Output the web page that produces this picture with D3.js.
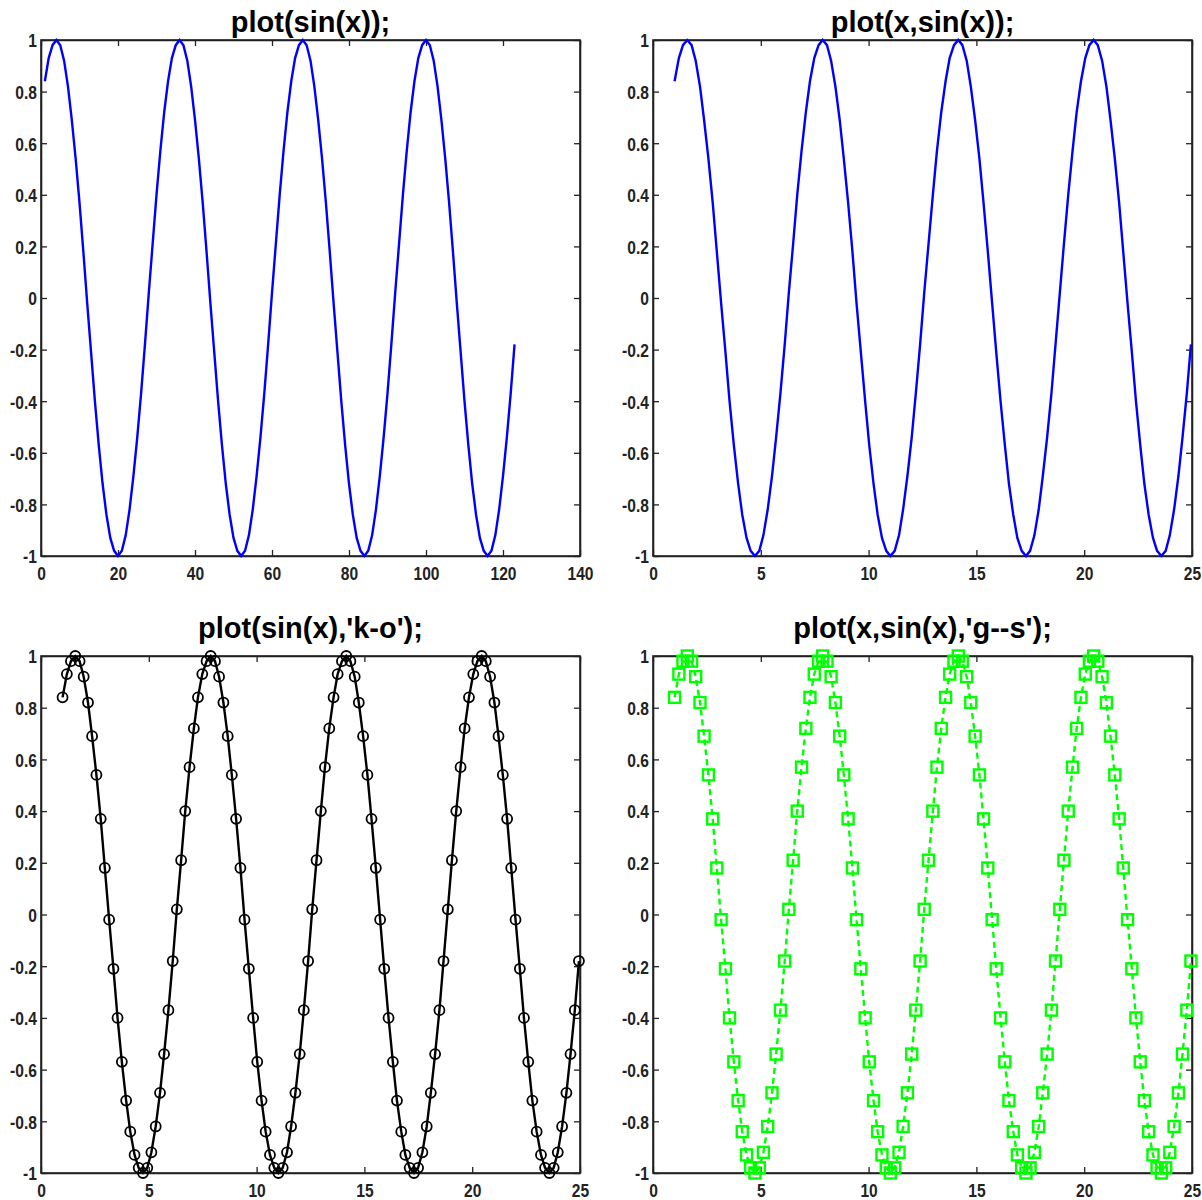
<!DOCTYPE html>
<html><head><meta charset="utf-8">
<script src="https://cdn.jsdelivr.net/npm/d3@7"></script>
<style>body{margin:0;background:#fff}</style>
</head><body>
<svg id="c" width="1202" height="1200"></svg>
<script>
// x values (1 : pi/16 : 25)
const xValues = [1.00,1.20,1.39,1.59,1.79,1.98,2.18,2.37,2.57,2.77,2.96,3.16,3.36,3.55,3.75,3.95,
4.14,4.34,4.53,4.73,4.93,5.12,5.32,5.52,5.71,5.91,6.11,6.30,6.50,6.69,6.89,7.09,
7.28,7.48,7.68,7.87,8.07,8.26,8.46,8.66,8.85,9.05,9.25,9.44,9.64,9.84,10.03,10.23,
10.42,10.62,10.82,11.01,11.21,11.41,11.60,11.80,12.00,12.19,12.39,12.58,12.78,12.98,13.17,13.37,
13.57,13.76,13.96,14.16,14.35,14.55,14.74,14.94,15.14,15.33,15.53,15.73,15.92,16.12,16.32,16.51,
16.71,16.90,17.10,17.30,17.49,17.69,17.89,18.08,18.28,18.48,18.67,18.87,19.06,19.26,19.46,19.65,
19.85,20.05,20.24,20.44,20.63,20.83,21.03,21.22,21.42,21.62,21.81,22.01,22.21,22.40,22.60,22.79,
22.99,23.19,23.38,23.58,23.78,23.97,24.17,24.37,24.56,24.76,24.95];
// sin(x) values
const yValues = [0.84,0.93,0.98,1.00,0.98,0.92,0.82,0.69,0.54,0.37,0.18,-0.02,-0.21,-0.40,-0.57,-0.72,
-0.84,-0.93,-0.98,-1.00,-0.98,-0.92,-0.82,-0.69,-0.54,-0.37,-0.18,0.02,0.21,0.40,0.57,0.72,
0.84,0.93,0.98,1.00,0.98,0.92,0.82,0.69,0.54,0.37,0.18,-0.02,-0.21,-0.40,-0.57,-0.72,
-0.84,-0.93,-0.98,-1.00,-0.98,-0.92,-0.82,-0.69,-0.54,-0.37,-0.18,0.02,0.21,0.40,0.57,0.72,
0.84,0.93,0.98,1.00,0.98,0.92,0.82,0.69,0.54,0.37,0.18,-0.02,-0.21,-0.40,-0.57,-0.72,
-0.84,-0.93,-0.98,-1.00,-0.98,-0.92,-0.82,-0.69,-0.54,-0.37,-0.18,0.02,0.21,0.40,0.57,0.72,
0.84,0.93,0.98,1.00,0.98,0.92,0.82,0.69,0.54,0.37,0.18,-0.02,-0.21,-0.40,-0.57,-0.72,
-0.84,-0.93,-0.98,-1.00,-0.98,-0.92,-0.82,-0.69,-0.54,-0.37,-0.18];
const indexValues = yValues.map((_, i) => i + 1);

const titles = ["plot(sin(x));", "plot(x,sin(x));", "plot(sin(x),'k-o');", "plot(x,sin(x),'g--s');"];
const xTicksIndex = [0,20,40,60,80,100,120,140];
const xTicksX = [0,5,10,15,20,25];
const yTicks = [-1,-0.8,-0.6,-0.4,-0.2,0,0.2,0.4,0.6,0.8,1];

const svg = d3.select("#c");
const tickFont = "'Liberation Sans',Arial,sans-serif";
const titleFont = "'Liberation Sans',Arial,sans-serif";

const panels = [
  {box:[41,40,580,556], tb:32, xs:indexValues, xd:[0,140], xt:xTicksIndex, title:titles[0], color:"#0000ff", dash:null, marker:null},
  {box:[653,40,1192,556], tb:32, xs:xValues, xd:[0,25], xt:xTicksX, title:titles[1], color:"#0000ff", dash:null, marker:null},
  {box:[41,656,580,1173], tb:638, xs:xValues, xd:[0,25], xt:xTicksX, title:titles[2], color:"#000000", dash:null, marker:"o"},
  {box:[653,656,1192,1173], tb:638, xs:xValues, xd:[0,25], xt:xTicksX, title:titles[3], color:"#00ff00", dash:"6,4", marker:"s"}
];

const fmt = d => String(d);

panels.forEach(p => {
  const [x0,y0,x1,y1] = p.box;
  const x = d3.scaleLinear().domain(p.xd).range([x0,x1]);
  const y = d3.scaleLinear().domain([-1,1]).range([y1,y0]);
  const g = svg.append("g");
  const tl = 6;
  const bx = g.append("g").attr("transform", `translate(0,${y1})`)
    .call(d3.axisBottom(x).tickValues(p.xt).tickSizeInner(-tl).tickSizeOuter(0).tickFormat(fmt));
  bx.selectAll(".tick text").attr("y", 24).attr("dy", null).attr("transform", "scale(0.82,1)");
  g.append("g").attr("transform", `translate(0,${y0})`)
    .call(d3.axisTop(x).tickValues(p.xt).tickSizeInner(-tl).tickSizeOuter(0).tickFormat(""));
  const ly = g.append("g").attr("transform", `translate(${x0},0)`)
    .call(d3.axisLeft(y).tickValues(yTicks).tickSizeInner(-tl).tickSizeOuter(0).tickPadding(5).tickFormat(fmt));
  ly.selectAll(".tick text").attr("dy", "0.36em").attr("transform", "scale(0.82,1)");
  g.append("g").attr("transform", `translate(${x1},0)`)
    .call(d3.axisRight(y).tickValues(yTicks).tickSizeInner(-tl).tickSizeOuter(0).tickFormat(""));
  g.selectAll(".domain").attr("stroke", "#222").attr("stroke-width", 1.6);
  g.selectAll(".tick line").attr("stroke", "#222").attr("stroke-width", 1.3);
  g.selectAll(".tick text").attr("font-family", tickFont).attr("font-size", 19).attr("fill", "#222").attr("font-weight", "bold");
  g.append("rect").attr("x", x0).attr("y", y0).attr("width", x1-x0).attr("height", y1-y0)
    .attr("fill", "none").attr("stroke", "#222").attr("stroke-width", 1.6);
  // title
  g.append("text").attr("x", (x0+x1)/2).attr("y", p.tb).attr("text-anchor", "middle")
    .attr("font-family", titleFont).attr("font-size", 29).attr("font-weight", "bold").attr("fill", "#000")
    .text(p.title);
  // data
  const pts = p.xs.map((v,i) => [v, yValues[i]]);
  const line = d3.line().x(d => x(d[0])).y(d => y(d[1]));
  g.append("path").datum(pts).attr("d", line).attr("fill", "none")
    .attr("stroke", p.color).attr("stroke-width", 2.4).attr("stroke-dasharray", p.dash);
  if (p.marker === "o") {
    g.selectAll("circle.m").data(pts).enter().append("circle")
      .attr("cx", d => x(d[0])).attr("cy", d => y(d[1])).attr("r", 5)
      .attr("fill", "none").attr("stroke", p.color).attr("stroke-width", 1.8);
  } else if (p.marker === "s") {
    g.selectAll("rect.m").data(pts).enter().append("rect")
      .attr("x", d => x(d[0]) - 5.5).attr("y", d => y(d[1]) - 5.5).attr("width", 11).attr("height", 11)
      .attr("fill", "none").attr("stroke", p.color).attr("stroke-width", 2.4);
  }
});
</script>
</body></html>
